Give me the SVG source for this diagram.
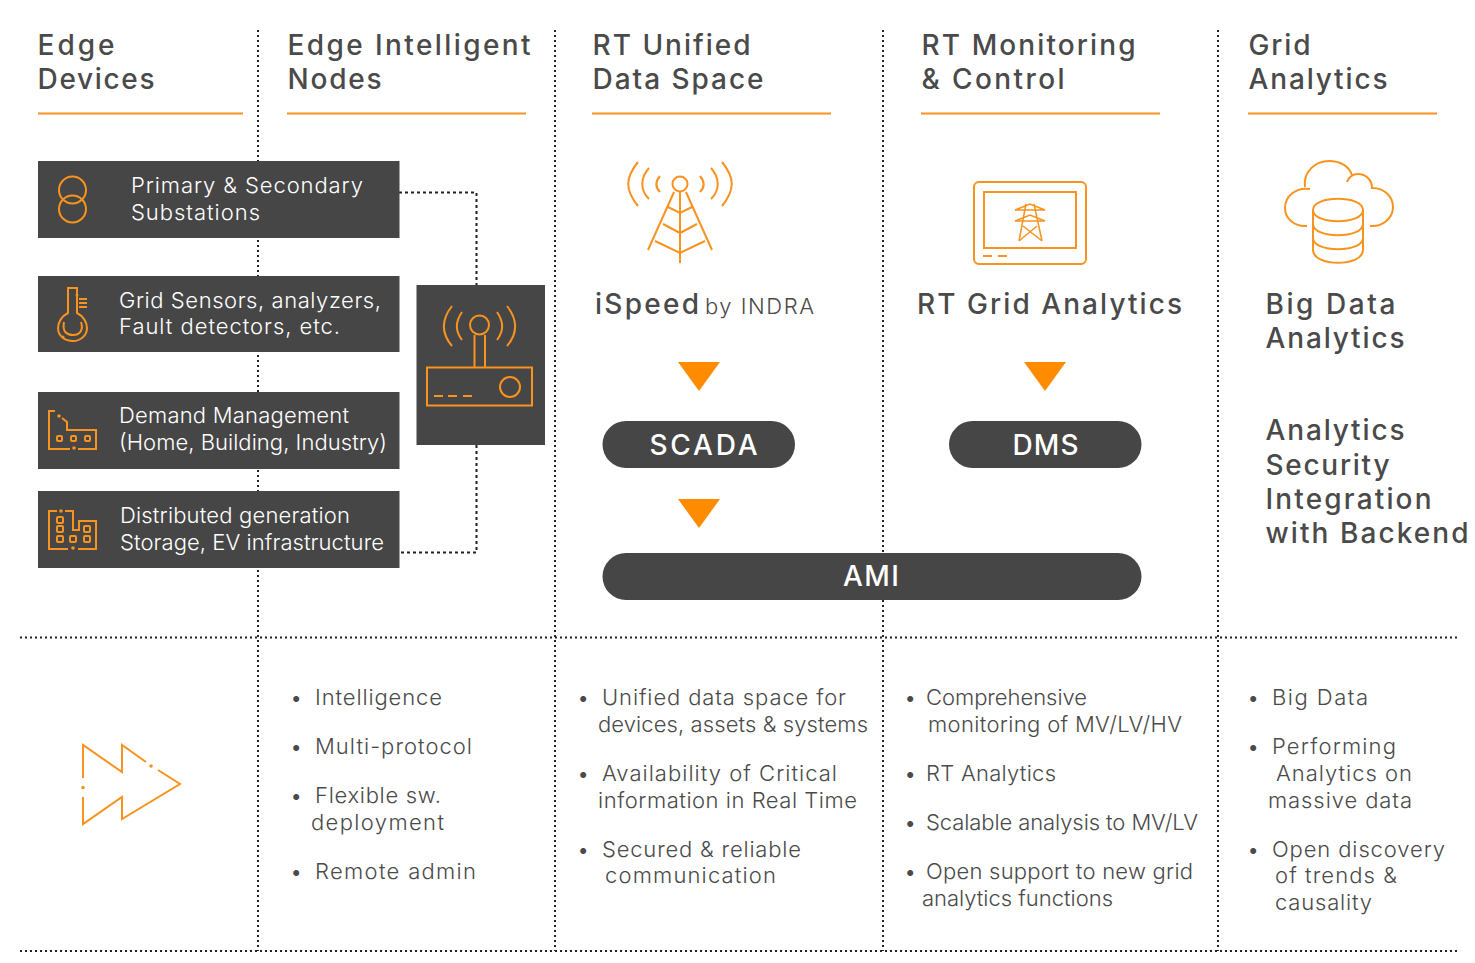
<svg xmlns="http://www.w3.org/2000/svg" width="1475" height="963" viewBox="0 0 1475 963">
<style>
text{font-family:"Inter","Liberation Sans",sans-serif;fill:#4a4a4a}
.h{font-size:28px;font-weight:500}
.b{font-size:22px;font-weight:300}
.w{font-size:22px;font-weight:300;fill:#fff}
.p{font-size:28px;font-weight:500;fill:#fff;text-anchor:middle}
.box{fill:#464646}
.ic{fill:none;stroke:#f7931e;stroke-width:2}
.ul{stroke:#f7931e;stroke-width:2;fill:none}
.tri{fill:#ff8c00}
.dot{fill:#f7931e}
.d{stroke:#222;stroke-width:2;stroke-dasharray:2 3;fill:none}
.c{stroke:#222;stroke-width:2;stroke-dasharray:3 3;fill:none}
</style>
<g id="grid" class="d">
<path d="M258 30V951M555 30V951M883 30V951M1218 30V951M20 637.500H1457M20 951H1457"/>
</g>
<g id="connectors" class="c"><path d="M399 192.500H476.500V285M476.500 445V552.500H399"/></g>
<g id="headers">
<text class="h" x="37.500" y="55" textLength="77">Edge</text><text class="h" x="37.500" y="89" textLength="117">Devices</text><path class="ul" d="M38 113.500H243"/>
<text class="h" x="287.500" y="55" textLength="243">Edge Intelligent</text><text class="h" x="287.500" y="89" textLength="94">Nodes</text><path class="ul" d="M287 113.500H526"/>
<text class="h" x="592.500" y="55" textLength="158">RT Unified</text><text class="h" x="592.500" y="89" textLength="171">Data Space</text><path class="ul" d="M592 113.500H831"/>
<text class="h" x="921.500" y="55" textLength="214">RT Monitoring</text><text class="h" x="921.500" y="89" textLength="143">&amp; Control</text><path class="ul" d="M921 113.500H1160"/>
<text class="h" x="1248.500" y="55" textLength="62">Grid</text><text class="h" x="1248.500" y="89" textLength="139">Analytics</text><path class="ul" d="M1248 113.500H1437"/>
</g>
<g id="node-substations"><rect class="box" x="38" y="161" width="361.500" height="77"/>
<circle class="ic" cx="72.500" cy="190" r="13.500"/><circle class="ic" cx="72.500" cy="209" r="13.500"/>
<text class="w" x="131" y="193" textLength="232">Primary &amp; Secondary</text><text class="w" x="131" y="220" textLength="129">Substations</text></g>
<g id="node-sensors"><rect class="box" x="38" y="276" width="361.500" height="76"/>
<path class="ic" d="M68 313C62 316 58 322 58 328C58 336 65 341 73 341C81 341 87 335 87 328C87 322 83 316 77 313V288H68ZM79 299H87M79 303H87M79 307H87M64 322C62 332 67 335 73 335C79 335 84 331 81 322"/>
<circle class="dot" cx="77" cy="295" r="1.500"/><circle class="dot" cx="63" cy="337" r="1.500"/>
<text class="w" x="119" y="308" textLength="262">Grid Sensors, analyzers,</text><text class="w" x="119" y="334" textLength="221">Fault detectors, etc.</text></g>
<g id="node-demand"><rect class="box" x="38" y="392" width="361.500" height="77"/>
<path class="ic" d="M70 449H49V411H55M62 418L67 422V430H96V449H78"/>
<rect class="ic" x="57" y="436" width="5" height="5" rx="1"/><rect class="ic" x="71" y="436" width="5" height="5" rx="1"/><rect class="ic" x="85" y="436" width="5" height="5" rx="1"/>
<circle class="dot" cx="59" cy="416" r="1.800"/><circle class="dot" cx="74" cy="448" r="1.800"/>
<text class="w" x="119" y="423" textLength="230">Demand Management</text><text class="w" x="119" y="450" textLength="268">(Home, Building, Industry)</text></g>
<g id="node-generation"><rect class="box" x="38" y="491" width="361.500" height="77"/>
<path class="ic" d="M68 549H49V511H57M65 511H73V530H79V521H96V549H78"/>
<rect class="ic" x="57" y="517" width="6" height="6" rx="1"/><rect class="ic" x="57" y="526" width="6" height="6" rx="1"/><rect class="ic" x="57" y="536" width="6" height="6" rx="1"/><rect class="ic" x="70" y="536" width="6" height="6" rx="1"/><rect class="ic" x="84" y="526" width="6" height="6" rx="1"/><rect class="ic" x="84" y="536" width="6" height="6" rx="1"/>
<circle class="dot" cx="61" cy="511" r="1.800"/><circle class="dot" cx="73" cy="548" r="1.800"/>
<text class="w" x="120" y="523" textLength="230">Distributed generation</text><text class="w" x="120" y="550" textLength="264">Storage, EV infrastructure</text></g>
<g id="node-gateway"><rect class="box" x="416.500" y="285" width="128.500" height="160"/>
<circle class="ic" cx="479.500" cy="325" r="9.500"/>
<path class="ic" d="M474.500 335V367M485 335V367M427 367.500H532V405.500H427ZM434 396H443M448 396H457M463 396H472"/>
<circle class="ic" cx="510" cy="387" r="10"/>
<path class="ic" d="M452 306C441 320 441 333 452 346M462 312C455 322 455 331 462 340M497 312C504 322 504 331 497 340M507 306C518 320 518 333 507 346"/></g>
<g id="node-ispeed">
<circle class="ic" cx="680" cy="184" r="7.500"/>
<path class="ic" d="M638 162C625 178 625 190 638 206M649 168C640 178 640 190 649 199M660 176C655 182 655 187 660 192M700 176C705 182 705 187 700 192M711 168C720 178 720 190 711 199M722 162C735 178 735 190 722 206M674 192L648 250M686 192L712 250M680 192V263M668 207L680 213L692 207M663 224L680 233L697 224M655 241L680 253L705 241"/>
<text class="h" x="595" y="314" textLength="104">iSpeed</text><text class="b" x="705" y="314" textLength="109">by INDRA</text></g>
<g id="node-rt-grid">
<rect class="ic" x="974" y="182" width="112" height="82" rx="5"/><rect class="ic" x="984" y="192" width="92" height="56"/>
<path class="ic" d="M983 256H992M998 256H1007"/>
<path class="ic" style="stroke-width:1.500" d="M1015 210L1030 204L1045 210ZM1015 221L1030 215L1045 221ZM1026 204L1019 241M1034 204L1042 241M1023 226L1042 241M1037 226L1019 241"/>
<text class="h" x="917" y="314" textLength="265">RT Grid Analytics</text></g>
<g id="node-cloud">
<path class="ic" d="M1310 189C1296 187 1285 196 1285 208C1285 219 1295 227 1307 226M1305 187C1303 172 1315 161 1329 161C1340 161 1349 166 1352 175M1347 182C1349 177 1353 174 1358 174C1366 174 1372 180 1372 188C1385 188 1393 197 1393 207C1393 218 1383 227 1370 226"/>
<path class="ic" d="M1313 210C1313 195 1363 195 1363 210V250C1363 267 1313 267 1313 250ZM1313 210C1313 225 1363 225 1363 210M1313 224C1313 239 1363 239 1363 224M1313 238C1313 253 1363 253 1363 238"/>
<text class="h" x="1265.500" y="314" textLength="130">Big Data</text><text class="h" x="1265.500" y="348" textLength="139">Analytics</text></g>
<g id="node-security">
<text class="h" x="1265.500" y="440" textLength="139">Analytics</text><text class="h" x="1265.500" y="475" textLength="124">Security</text><text class="h" x="1265.500" y="509" textLength="166">Integration</text><text class="h" x="1265.500" y="543" textLength="203">with Backend</text></g>
<g id="arrows"><path class="tri" d="M678 362H720L699 391ZM678 499H720L699 528ZM1024 362H1066L1045 391Z"/></g>
<g id="node-scada"><rect class="box" x="602.500" y="421" width="192.500" height="47" rx="23.500"/><text class="p" x="703.500" y="455" textLength="108">SCADA</text></g>
<g id="node-dms"><rect class="box" x="949" y="421" width="192.500" height="47" rx="23.500"/><text class="p" x="1045.500" y="455" textLength="66">DMS</text></g>
<g id="node-ami"><rect class="box" x="602.500" y="553" width="539" height="47" rx="23.500"/><text class="p" x="871" y="586" textLength="56">AMI</text></g>
<g id="node-forward">
<path class="ic" d="M83 778V745L122 772V745L146 762M158 770L180 784L122 819V797L83 824V797"/>
<circle class="dot" cx="83" cy="787.500" r="1.800"/><circle class="dot" cx="151" cy="766" r="1.800"/></g>
<g id="list-nodes">
<text class="b" x="290" y="705">•</text><text class="b" x="315" y="705" textLength="127">Intelligence</text>
<text class="b" x="290" y="754">•</text><text class="b" x="315" y="754" textLength="157">Multi-protocol</text>
<text class="b" x="290" y="803">•</text><text class="b" x="315" y="803" textLength="126">Flexible sw.</text><text class="b" x="311" y="830" textLength="133">deployment</text>
<text class="b" x="290" y="879">•</text><text class="b" x="315" y="879" textLength="161">Remote admin</text></g>
<g id="list-unified">
<text class="b" x="577" y="705">•</text><text class="b" x="602" y="705" textLength="244">Unified data space for</text><text class="b" x="598" y="732" textLength="270">devices, assets &amp; systems</text>
<text class="b" x="577" y="781">•</text><text class="b" x="602" y="781" textLength="235">Availability of Critical</text><text class="b" x="598" y="808" textLength="259">information in Real Time</text>
<text class="b" x="577" y="857">•</text><text class="b" x="602" y="857" textLength="199">Secured &amp; reliable</text><text class="b" x="605" y="883" textLength="171">communication</text></g>
<g id="list-monitor">
<text class="b" x="904" y="705">•</text><text class="b" x="926" y="705" textLength="161">Comprehensive</text><text class="b" x="928" y="732" textLength="254">monitoring of MV/LV/HV</text>
<text class="b" x="904" y="781">•</text><text class="b" x="926" y="781" textLength="130">RT Analytics</text>
<text class="b" x="904" y="830">•</text><text class="b" x="926" y="830" textLength="272">Scalable analysis to MV/LV</text>
<text class="b" x="904" y="879">•</text><text class="b" x="926" y="879" textLength="267">Open support to new grid</text><text class="b" x="922" y="906" textLength="191">analytics functions</text></g>
<g id="list-grid">
<text class="b" x="1247" y="705">•</text><text class="b" x="1272" y="705" textLength="96">Big Data</text>
<text class="b" x="1247" y="754">•</text><text class="b" x="1272" y="754" textLength="124">Performing</text><text class="b" x="1276" y="781" textLength="136">Analytics on</text><text class="b" x="1268" y="808" textLength="144">massive data</text>
<text class="b" x="1247" y="857">•</text><text class="b" x="1272" y="857" textLength="173">Open discovery</text><text class="b" x="1275" y="883" textLength="122">of trends &amp;</text><text class="b" x="1275" y="910" textLength="97">causality</text></g>
</svg>
